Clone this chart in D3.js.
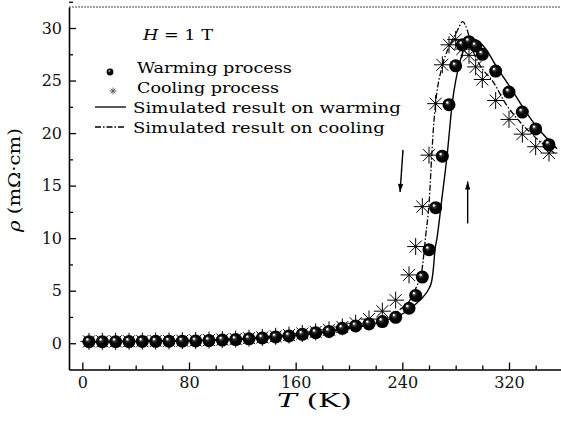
<!DOCTYPE html>
<html>
<head>
<meta charset="utf-8">
<script src="https://cdn.jsdelivr.net/npm/d3@7"></script>
<style>
  body { margin: 0; background: #fff; }
  svg { display: block; font-family: "DejaVu Serif", serif; }
</style>
</head>
<body>
<div id="chart"></div>
<script>
// resistivity vs temperature, H = 1 T

// measured points, warming (spheres)
const warmT = [5, 15, 25, 35, 45, 55, 65, 75, 85, 95, 105, 115, 125, 135, 145, 155, 165, 175, 185, 195,
  205, 215, 225, 235, 245, 250, 255, 260, 265, 270, 275, 280, 285, 290, 295, 300, 310, 320, 330, 340, 350];
const warmRho = [0.15, 0.15, 0.15, 0.16, 0.17, 0.18, 0.19, 0.2, 0.22, 0.25, 0.3, 0.35, 0.42, 0.5, 0.6, 0.7, 0.85, 1.0, 1.12, 1.42,
  1.65, 1.84, 2.06, 2.47, 3.33, 4.55, 6.3, 8.9, 12.9, 17.8, 22.7, 26.4, 28.4, 28.7, 28.3, 27.5, 25.9, 23.9, 22.0, 20.4, 18.9];

// measured points, cooling (stars)
const coolT = [5, 15, 25, 35, 45, 55, 65, 75, 85, 95, 105, 115, 125, 135, 145, 155, 165, 175, 185, 195,
  205, 215, 225, 235, 245, 250, 255, 260, 265, 270, 275, 280, 285, 290, 295, 300, 310, 320, 330, 340, 350];
const coolRho = [0.18, 0.18, 0.18, 0.19, 0.2, 0.21, 0.22, 0.24, 0.26, 0.3, 0.35, 0.4, 0.48, 0.56, 0.66, 0.78, 0.92, 1.08, 1.28, 1.55,
  1.9, 2.3, 3.05, 4.1, 6.5, 9.2, 13.0, 17.9, 22.8, 26.5, 28.4, 28.9, 28.0, 27.4, 26.3, 25.1, 23.1, 21.3, 19.9, 18.7, 18.1];

// simulated curve on warming (solid)
const simWarmT = [0, 40, 80, 120, 150, 180, 200, 220, 235, 243, 250.7, 255.7, 259.4, 262, 263.2, 264.5, 266, 269.5, 273.5,
  277.5, 283.2, 288.2, 294, 302, 310.7, 320.7, 330.7, 340.7, 350.7, 356];
const simWarmRho = [0.12, 0.15, 0.22, 0.38, 0.62, 1.0, 1.4, 1.9, 2.5, 3.0, 3.8, 4.43, 5.07, 5.9, 7.0, 8.9, 10.0, 13.6, 17.8,
  22.9, 26.8, 28.4, 28.9, 28.1, 26.3, 24.4, 22.4, 20.6, 19.2, 18.5];

// simulated curve on cooling (dash-dot)
const simCoolT = [0, 80, 150, 200, 225.7, 238.2, 245.7, 250.7, 254.5, 257.5, 260.2, 262, 263.5, 265, 270, 275,
  280.7, 285.2, 288.7, 292, 298, 308, 318, 328, 338, 348, 354];
const simCoolRho = [0.15, 0.25, 0.7, 1.5, 2.2, 3.2, 4.1, 5.4, 6.8, 10.2, 13.6, 17.75, 20.8, 22.9, 26.4, 28.2,
  29.6, 30.6, 29.8, 28.2, 26.5, 24.9, 22.7, 21.1, 19.8, 18.7, 18.1];

const xMajor = [0, 80, 160, 240, 320];
const yMajor = [0, 5, 10, 15, 20, 25, 30];

const svg = d3.select("#chart").append("svg")
  .attr("width", 561)
  .attr("height", 424);

const x = d3.scaleLinear().domain([-10, 359]).range([69, 561]);
const y = d3.scaleLinear().domain([-2.5, 32]).range([369.5, 7]);

// sphere shading
const grad = svg.append("defs").append("radialGradient")
  .attr("id", "ball").attr("cx", "50%").attr("cy", "50%").attr("r", "52%")
  .attr("fx", "34%").attr("fy", "30%");
grad.append("stop").attr("offset", "0%").attr("stop-color", "#fff");
grad.append("stop").attr("offset", "9%").attr("stop-color", "#f4f4f4");
grad.append("stop").attr("offset", "26%").attr("stop-color", "#333");
grad.append("stop").attr("offset", "50%").attr("stop-color", "#050505");
grad.append("stop").attr("offset", "100%").attr("stop-color", "#000");

// squeeze/stretch a text to a given width, like the wide serif of the original
function fitText(sel, px, py, w, extra) {
  const bw = sel.node().getComputedTextLength();
  sel.attr("transform", `translate(${px},${py}) ${extra || ""} scale(${w / bw},1)`);
}

// axes (ticks pointing inward)
svg.append("g").attr("transform", `translate(0,${y(-2.5)})`)
  .call(d3.axisBottom(x).tickValues(xMajor).tickSizeInner(-7).tickSizeOuter(0).tickPadding(7));
svg.append("g").attr("transform", `translate(0,${y(-2.5)})`)
  .call(d3.axisBottom(x).tickValues(d3.range(20, 360, 20).filter(v => v % 80)).tickSizeInner(-4).tickSizeOuter(0).tickFormat(""))
  .select(".domain").remove();

svg.append("g").attr("transform", `translate(${x(-10)},0)`)
  .call(d3.axisLeft(y).tickValues(yMajor).tickSizeInner(-7).tickSizeOuter(0).tickPadding(7));
svg.append("g").attr("transform", `translate(${x(-10)},0)`)
  .call(d3.axisLeft(y).tickValues(yMajor.map(v => v + 2.5)).tickSizeInner(-4).tickSizeOuter(0).tickFormat(""))
  .select(".domain").remove();

svg.selectAll(".domain").attr("stroke", "#000").attr("stroke-width", 1.6);
svg.selectAll(".tick line").attr("stroke", "#000").attr("stroke-width", 1.3);
svg.selectAll(".tick text").attr("font-family", "DejaVu Serif").attr("font-size", 16).attr("fill", "#111");

// top frame line
svg.append("line")
  .attr("x1", x(-10)).attr("x2", 561).attr("y1", y(32)).attr("y2", y(32))
  .attr("stroke", "#444").attr("stroke-width", 1).attr("stroke-dasharray", "2,1");

// simulated curves
const line = d3.line().curve(d3.curveMonotoneX).x(d => x(d[0])).y(d => y(d[1]));
svg.append("path")
  .datum(d3.zip(simCoolT, simCoolRho))
  .attr("d", line).attr("fill", "none").attr("stroke", "#000")
  .attr("stroke-width", 1.3).attr("stroke-dasharray", "6,2,1.5,2");
svg.append("path")
  .datum(d3.zip(simWarmT, simWarmRho))
  .attr("d", line).attr("fill", "none").attr("stroke", "#000").attr("stroke-width", 1.4);

// star marker path
function star(r) {
  const a = r * Math.SQRT1_2;
  return `M${-r},0L${r},0M0,${-r}L0,${r}M${-a},${-a}L${a},${a}M${-a},${a}L${a},${-a}`;
}

svg.append("g").selectAll("path")
  .data(d3.zip(coolT, coolRho))
  .join("path")
  .attr("transform", d => `translate(${x(d[0])},${y(d[1])})`)
  .attr("d", star(8.5))
  .attr("stroke", "#000").attr("stroke-width", 1).attr("fill", "none");

svg.append("g").selectAll("circle")
  .data(d3.zip(warmT, warmRho))
  .join("circle")
  .attr("cx", d => x(d[0])).attr("cy", d => y(d[1]))
  .attr("r", 6.5).attr("fill", "url(#ball)");

// arrows
const arrows = [[[240.5, 18.4], [238.3, 14.4]], [[289, 11.4], [289, 15.4]]];
arrows.forEach(([p0, p1]) => {
  const x0 = x(p0[0]), y0 = y(p0[1]), x1 = x(p1[0]), y1 = y(p1[1]);
  const ang = Math.atan2(y1 - y0, x1 - x0);
  svg.append("line").attr("x1", x0).attr("y1", y0).attr("x2", x1).attr("y2", y1)
    .attr("stroke", "#000").attr("stroke-width", 1.4);
  const h = 8, w = 2.6;
  const bx = x1 - h * Math.cos(ang), by = y1 - h * Math.sin(ang);
  svg.append("path")
    .attr("d", `M${x1},${y1}L${bx - w * Math.sin(ang)},${by + w * Math.cos(ang)}L${bx + w * Math.sin(ang)},${by - w * Math.cos(ang)}Z`)
    .attr("fill", "#000");
});

// legend
const fs = 15;
const t0 = svg.append("text").attr("font-size", fs);
t0.append("tspan").attr("font-style", "italic").text("H");
t0.append("tspan").text(" = 1 T");
fitText(t0, 143, 40, 70);

svg.append("circle").attr("cx", 110).attr("cy", 72).attr("r", 3.4).attr("fill", "url(#ball)");
svg.append("path").attr("transform", "translate(113,91)").attr("d", star(3.4))
  .attr("stroke", "#555").attr("stroke-width", 0.9);
svg.append("line").attr("x1", 95).attr("x2", 126).attr("y1", 107).attr("y2", 107)
  .attr("stroke", "#000").attr("stroke-width", 1.3);
svg.append("line").attr("x1", 95).attr("x2", 126).attr("y1", 127).attr("y2", 127)
  .attr("stroke", "#000").attr("stroke-width", 1.3).attr("stroke-dasharray", "6,2,1.5,2");

const legendText = [
  ["Warming process", 137, 73, 155],
  ["Cooling process", 137, 93, 142],
  ["Simulated result on warming", 133, 113, 268],
  ["Simulated result on cooling", 133, 133, 252]
];
legendText.forEach(d => {
  const t = svg.append("text").attr("font-size", fs).text(d[0]);
  fitText(t, d[1], d[2], d[3]);
});

// axis titles
const xt = svg.append("text").attr("font-size", 18);
xt.append("tspan").attr("font-style", "italic").text("T");
xt.append("tspan").text(" (K)");
fitText(xt, 277, 407, 75);

const yt = svg.append("text").attr("font-size", 17);
yt.append("tspan").attr("font-style", "italic").text("ρ");
yt.append("tspan").text(" (mΩ·cm)");
fitText(yt, 20, 232, 104, "rotate(-90)");
</script>
</body>
</html>
